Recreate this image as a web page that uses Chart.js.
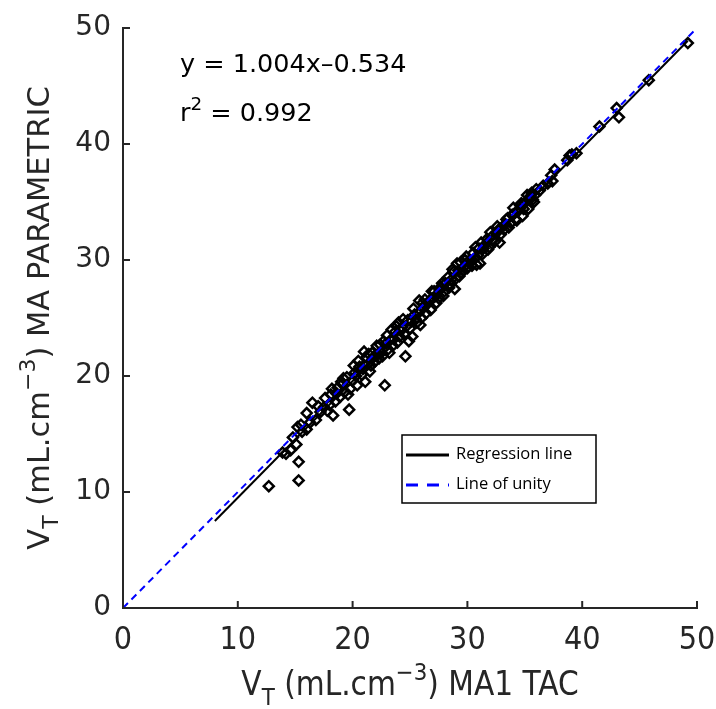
<!DOCTYPE html>
<html><head><meta charset="utf-8">
<script src="https://cdn.jsdelivr.net/npm/chart.js@4.4.0/dist/chart.umd.min.js"></script>
<style>html,body{margin:0;padding:0;background:#fff}#wrap{width:716px;height:709px;position:relative}</style>
</head><body><div id="wrap"><canvas id="c" width="716" height="709"></canvas></div>
<script>
// ---- data ----
const measuredX = [12.7,13.9,14.2,14.6,15.1,15.3,15.3,15.2,15.6,16.0,16.5,16.3,16.8,17.2,17.5,17.8,18.1,18.3,18.5,18.7,18.9,19.1,19.3,19.5,19.7,19.8,20.0,20.2,20.4,20.6,20.8,21.0,21.1,21.3,21.5,21.7,21.9,22.1,22.3,22.5,22.8,22.9,23.1,23.3,23.5,23.7,23.9,24.1,24.3,24.5,24.6,24.8,25.0,25.2,25.4,25.6,25.8,26.0,26.2,26.5,26.8,27.0,27.3,27.6,27.9,28.1,28.4,28.6,28.9,29.1,29.3,29.6,29.8,30.0,30.3,30.5,30.8,31.0,31.3,31.6,31.9,32.2,32.5,32.8,33.0,33.3,33.6,33.9,34.2,34.5,34.8,35.0,35.3,35.5,35.8,36.3,37.4,37.6,38.9,39.5,41.5,43.0,43.2,45.8,49.2,
  20.1,21.4,22.0,22.7,23.4,24.0,24.9,25.5,26.3,27.1,27.8,28.8,29.4,30.6,31.2,32.0,32.6,33.5,34.0,34.7,35.6,35.2,19.0,18.2,17.0,16.0,
  17.6,18.0,18.6,19.2,19.6,20.3,20.5,20.9,21.2,21.6,21.8,22.2,22.4,22.6,23.0,23.2,23.6,23.8,24.2,24.4,24.7,25.1,25.3,25.7,25.9,26.1,26.4,26.7,26.9,27.2,27.5,27.7,28.0,28.3,28.5,28.7,29.0,29.2,29.5,29.7,29.9,30.2,30.4,30.7,30.9,31.1,31.4,31.7,31.8,32.1,32.4,32.7,32.9,33.2,33.4,33.8,34.1,34.3,34.6,34.9,35.4,35.7,35.9,36.0,36.6,37.0,37.3,38.7,39.1,15.5,14.8];
const measuredY = [10.5,13.4,13.3,13.6,14.1,12.6,11.0,15.6,15.2,15.4,17.7,16.0,16.2,16.9,17.3,17.0,18.4,16.6,17.8,19.0,18.2,19.3,18.6,19.9,17.1,18.9,19.6,20.3,19.2,20.8,20.1,22.1,19.5,21.0,20.4,22.0,21.2,22.6,21.5,22.0,19.2,22.8,22.3,23.1,22.6,23.8,22.9,23.4,24.2,23.6,21.7,24.8,24.1,23.4,25.3,24.6,26.5,25.0,25.9,26.2,25.7,26.7,26.3,27.4,26.9,28.0,27.6,28.3,27.5,29.7,28.6,29.1,30.0,29.3,29.8,30.6,29.6,31.0,30.5,31.4,31.1,31.7,32.3,31.5,32.8,33.1,32.8,33.9,33.5,34.3,33.8,34.9,34.4,35.5,35.0,36.0,36.8,37.8,39.0,39.2,41.5,43.1,42.3,45.5,48.7,
  20.9,21.9,21.8,23.0,24.0,24.6,23.0,24.9,26.6,27.3,28.0,29.0,29.8,30.1,31.5,32.4,32.9,33.6,34.5,34.9,35.8,35.6,19.5,18.9,17.4,16.8,
  18.1,17.5,18.5,19.8,18.4,20.0,21.3,20.6,21.6,20.9,21.6,21.9,22.7,21.7,23.5,22.0,23.2,24.3,23.9,24.9,24.3,24.7,25.8,25.4,24.4,26.3,25.4,26.5,27.3,26.9,26.7,27.7,27.3,28.5,27.9,29.2,28.4,29.1,28.9,29.4,30.3,30.0,29.5,31.1,30.4,29.7,31.0,31.8,30.9,32.0,31.6,32.6,32.2,32.6,33.5,33.2,34.0,33.4,34.7,34.4,35.2,35.2,35.6,36.1,36.4,36.6,37.3,38.6,39.1,15.8,14.7];
const regressionX = [8.0, 49.2];
const regressionY = [7.5, 48.9];
const unityX = [0, 50];
const unityY = [0, 50];
const tickValues = [0, 10, 20, 30, 40, 50];
const equationLabel = 'y = 1.004x\u20130.534';
const r2Label = ['r', '2', ' = 0.992'];
const legendLabels = ['Regression line', 'Line of unity'];
const xTitleParts = [['V','n'],['T','sub'],[' (mL.cm','n'],['\u22123','sup'],[') MA1 TAC','n']];
const yTitleParts = [['V','n'],['T','sub'],[' (mL.cm','n'],['\u22123','sup'],[') MA PARAMETRIC','n']];

const pts = (xs, ys) => xs.map((x, i) => ({x, y: ys[i]}));
const AX = '#262626';
const NARROW = '"Liberation Sans Narrow","DejaVu Sans Condensed","DejaVu Sans",sans-serif';
const NORMAL = '"DejaVu Sans",sans-serif';

function richText(ctx, parts, size, family, x, y, align) {
  const seg = parts.map(([t, k]) => {
    const fs = k === 'n' ? size : size * 0.72;
    ctx.font = fs + 'px ' + family;
    return {t, k, fs, w: ctx.measureText(t).width};
  });
  const total = seg.reduce((a, s) => a + s.w, 0);
  let cx = align === 'center' ? x - total / 2 : x;
  ctx.textAlign = 'left';
  ctx.textBaseline = 'alphabetic';
  for (const s of seg) {
    ctx.font = s.fs + 'px ' + family;
    let dy = 0;
    if (s.k === 'sub') dy = size * 0.3;
    if (s.k === 'sup') dy = -size * 0.45;
    ctx.fillText(s.t, cx, y + dy);
    cx += s.w;
  }
}

const decor = {
  id: 'decor',
  afterDraw(chart) {
    const ctx = chart.ctx, xs = chart.scales.x, ys = chart.scales.y;
    ctx.save();
    // inward tick marks
    ctx.strokeStyle = AX; ctx.lineWidth = 2;
    tickValues.forEach(v => {
      const px = xs.getPixelForValue(v), py = ys.getPixelForValue(v);
      ctx.beginPath(); ctx.moveTo(px, ys.bottom); ctx.lineTo(px, ys.bottom - 7); ctx.stroke();
      ctx.beginPath(); ctx.moveTo(xs.left, py); ctx.lineTo(xs.left + 7, py); ctx.stroke();
    });
    ctx.fillStyle = '#000';
    // equation text
    ctx.font = '25.5px ' + NORMAL; ctx.textAlign = 'left'; ctx.textBaseline = 'alphabetic';
    ctx.fillText(equationLabel, 180, 72);
    richText(ctx, [[r2Label[0],'n'],[r2Label[1],'sup'],[r2Label[2],'n']], 25.5, NORMAL, 180, 121, 'left');
    // legend box
    const L = 402, T = 435, W = 194, H = 68;
    ctx.fillStyle = '#fff'; ctx.fillRect(L, T, W, H);
    ctx.strokeStyle = '#000'; ctx.lineWidth = 1.5; ctx.strokeRect(L, T, W, H);
    ctx.lineWidth = 3; ctx.strokeStyle = '#000';
    ctx.beginPath(); ctx.moveTo(406, 455); ctx.lineTo(449, 455); ctx.stroke();
    ctx.strokeStyle = '#0000ff'; ctx.setLineDash([12, 9]);
    ctx.beginPath(); ctx.moveTo(406, 485); ctx.lineTo(449, 485); ctx.stroke();
    ctx.setLineDash([]);
    ctx.fillStyle = '#000'; ctx.font = '16.5px "Open Sans",sans-serif'; ctx.textBaseline = 'middle';
    ctx.fillText(legendLabels[0], 456, 454);
    ctx.fillText(legendLabels[1], 456, 484);
    // axis titles
    ctx.fillStyle = '#262626';
    richText(ctx, xTitleParts, 33, NARROW, (xs.left + xs.right) / 2, 695, 'center');
    ctx.save();
    ctx.translate(49, (ys.top + ys.bottom) / 2);
    ctx.rotate(-Math.PI / 2);
    richText(ctx, yTitleParts, 30.5, NORMAL, 0, 0, 'center');
    ctx.restore();
    ctx.restore();
  }
};

new Chart(document.getElementById('c'), {
  type: 'scatter',
  data: {
    datasets: [
      { label: legendLabels[1], data: pts(unityX, unityY), showLine: true, borderColor: '#0000ff', borderWidth: 2, borderDash: [7, 5], pointRadius: 0, fill: false, order: 0 },
      { label: legendLabels[0], data: pts(regressionX, regressionY), showLine: true, borderColor: '#000', borderWidth: 2, pointRadius: 0, fill: false, order: 1 },
      { label: 'Data', data: pts(measuredX, measuredY), pointStyle: 'rectRot', pointRadius: 5, pointBorderWidth: 2.5, pointBorderColor: '#000', pointBackgroundColor: 'rgba(0,0,0,0)', showLine: false, order: 2 }
    ]
  },
  options: {
    responsive: false, animation: false,
    layout: { padding: { left: 0, right: 19, top: 28, bottom: 0 } },
    plugins: { legend: { display: false }, tooltip: { enabled: false } },
    scales: {
      x: {
        type: 'linear', min: 0, max: 50,
        afterFit: s => { s.height = 101; s.paddingLeft = 0; s.paddingRight = 0; },
        afterBuildTicks: s => { s.ticks = tickValues.map(v => ({value: v})); },
        grid: { display: false, drawTicks: false },
        border: { display: true, color: AX, width: 2 },
        ticks: { color: '#262626', padding: 13, font: { family: NARROW, size: 32 }, maxRotation: 0 }
      },
      y: {
        type: 'linear', min: 0, max: 50,
        afterFit: s => { s.width = 123; s.paddingTop = 0; s.paddingBottom = 0; },
        afterBuildTicks: s => { s.ticks = tickValues.map(v => ({value: v})); },
        grid: { display: false, drawTicks: false },
        border: { display: true, color: AX, width: 2 },
        ticks: { color: '#262626', padding: 12, font: { family: NORMAL, size: 28 } }
      }
    }
  },
  plugins: [decor]
});
</script></body></html>
